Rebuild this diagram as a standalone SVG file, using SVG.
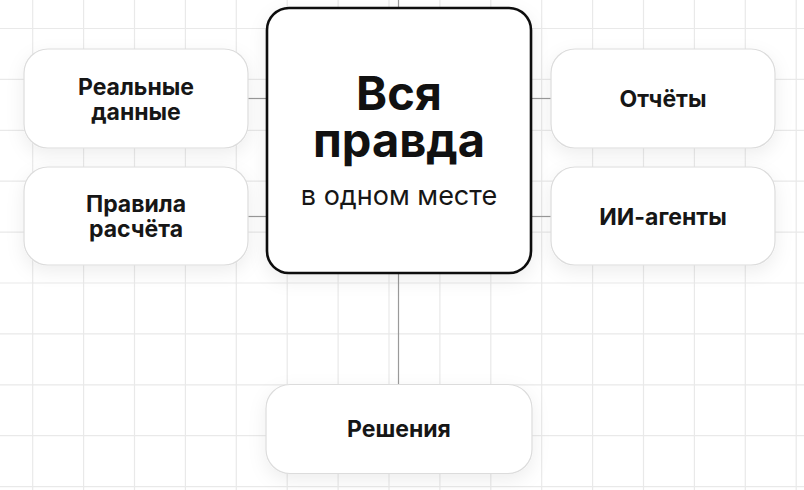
<svg xmlns="http://www.w3.org/2000/svg" width="804" height="490" viewBox="0 0 804 490">
<defs>
<filter id="sh" x="-30%" y="-30%" width="160%" height="170%">
<feDropShadow dx="0" dy="6" stdDeviation="9" flood-color="#000" flood-opacity="0.07"/>
</filter>
<style>
.grid{stroke:#e9e9e9;stroke-width:1.2;fill:none}
.conn{stroke:#9a9a9a;stroke-width:1.2;fill:none}
.node{fill:#fff;stroke:#dcdcdc;stroke-width:1.2}
.main{fill:#fff;stroke:#111;stroke-width:2.6}
.lbl{font-family:Inter,"Noto Sans",sans-serif;font-weight:700;font-size:23px;fill:#161616;text-anchor:middle}
.big{font-family:Inter,"Noto Sans",sans-serif;font-weight:700;font-size:47px;fill:#111;text-anchor:middle}
.sub{font-family:Inter,"Noto Sans",sans-serif;font-weight:400;font-size:27px;fill:#161616;text-anchor:middle}
</style>
</defs>
<rect width="804" height="490" fill="#fff"/>
<path class="grid" d="M32.7 0V490M83.6 0V490M134.5 0V490M185.4 0V490M236.3 0V490M287.2 0V490M338.1 0V490M389 0V490M439.9 0V490M490.8 0V490M541.7 0V490M592.6 0V490M643.5 0V490M694.4 0V490M745.3 0V490M796.2 0V490M0 28.5H804M0 79.4H804M0 130.3H804M0 181.2H804M0 232.1H804M0 283H804M0 333.9H804M0 384.8H804M0 435.7H804M0 486.6H804"/>
<g id="connectors">
<path class="conn" d="M398.5 0V8"/>
<path class="conn" d="M248 98.5H267"/>
<path class="conn" d="M248 216.5H267"/>
<path class="conn" d="M531 98.5H551"/>
<path class="conn" d="M531 216.5H551"/>
<path class="conn" d="M398.5 273V384"/>
</g>
<g id="real-data">
<rect class="node" filter="url(#sh)" x="24" y="49" width="224" height="99" rx="24"/>
<text class="lbl" x="136" y="94.5">Реальные<tspan x="136" dy="25">данные</tspan></text>
</g>
<g id="rules">
<rect class="node" filter="url(#sh)" x="24" y="167" width="224" height="98" rx="24"/>
<text class="lbl" x="136" y="212">Правила<tspan x="136" dy="25">расчёта</tspan></text>
</g>
<g id="reports">
<rect class="node" filter="url(#sh)" x="551" y="49" width="224" height="99" rx="24"/>
<text class="lbl" x="663" y="107">Отчёты</text>
</g>
<g id="ai-agents">
<rect class="node" filter="url(#sh)" x="551" y="167" width="224" height="98" rx="24"/>
<text class="lbl" x="663" y="225">ИИ-агенты</text>
</g>
<g id="decisions">
<rect class="node" filter="url(#sh)" x="266" y="384.5" width="266" height="89" rx="24"/>
<text class="lbl" x="399" y="437">Решения</text>
</g>
<g id="truth">
<rect class="main" filter="url(#sh)" x="267" y="8" width="264" height="265" rx="22"/>
<text class="big" x="399" y="110">Вся<tspan x="399" dy="47">правда</tspan></text>
<text class="sub" x="399" y="205">в одном месте</text>
</g>
</svg>
